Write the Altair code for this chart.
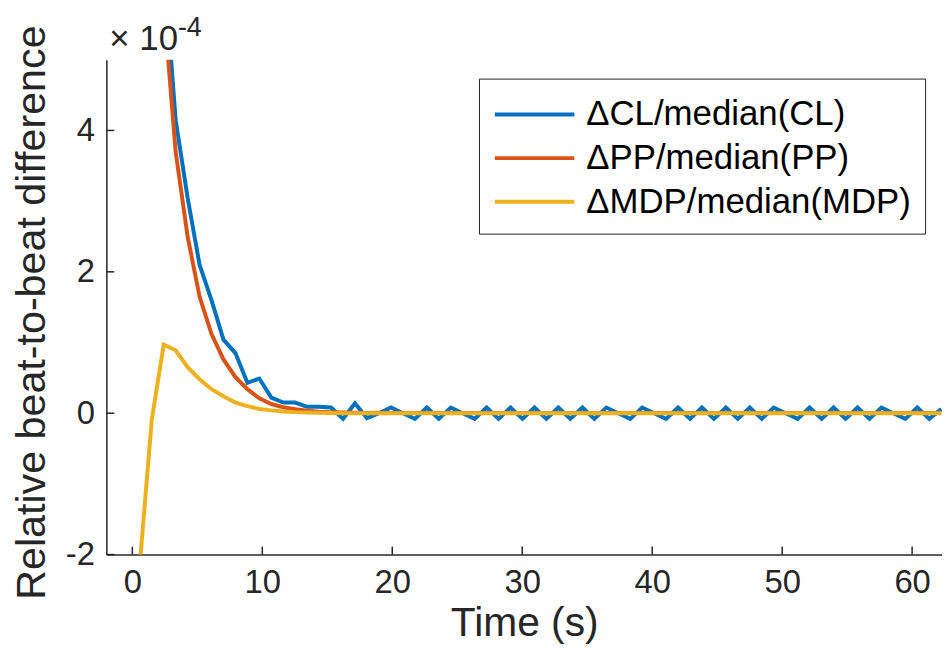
import altair as alt
import pandas as pd

# ---------------- data (values in units of 1e-4) ----------------
time_s = [0.57, 1.49, 2.41, 3.33, 4.25, 5.17, 6.09, 7.01, 7.93, 8.85,
          9.77, 10.69, 11.61, 12.53, 13.45, 14.37, 15.29, 16.21, 17.13, 18.05,
          18.98, 19.90, 20.82, 21.74, 22.66, 23.58, 24.50, 25.42, 26.34, 27.26,
          28.18, 29.10, 30.02, 30.94, 31.86, 32.78, 33.70, 34.63, 35.55, 36.47,
          37.39, 38.31, 39.23, 40.15, 41.07, 41.99, 42.91, 43.83, 44.75, 45.67,
          46.59, 47.51, 48.43, 49.35, 50.27, 51.19, 52.11, 53.04, 53.96, 54.88,
          55.80, 56.72, 57.64, 58.56, 59.48, 60.40, 61.32, 62.24]

d_cl = [None, None, 6.4, 4.15, 3.05, 2.1, 1.6, 1.04, 0.85, 0.43,
        0.49, 0.22, 0.15, 0.15, 0.09, 0.09, 0.08, -0.08, 0.14, -0.07,
        0.0, 0.08, 0.0, -0.08, 0.08, -0.08, 0.08, 0.0, -0.08, 0.08,
        -0.08, 0.08, -0.08, 0.08, -0.08, 0.08, -0.08, 0.08, -0.08, 0.08,
        0.0, -0.08, 0.08, 0.0, -0.08, 0.08, -0.08, 0.08, -0.08, 0.08,
        -0.08, 0.08, -0.08, 0.08, 0.0, -0.08, 0.08, -0.08, 0.08, -0.08,
        0.08, -0.08, 0.08, 0.0, -0.08, 0.08, -0.08, 0.06]

d_pp = [None, None, 5.8, 3.7, 2.5, 1.65, 1.12, 0.76, 0.51, 0.34,
        0.21, 0.13, 0.085, 0.055, 0.035, 0.022, 0.014, 0.009, 0.006, 0.004,
        0.005, 0.003, 0.004, 0.002, 0.003, 0.002, 0.003, 0.002, 0.002, 0.003,
        0.002, 0.002, 0.003, 0.002, 0.002, 0.002, 0.003, 0.002, 0.002, 0.002,
        0.003, 0.002, 0.002, 0.002, 0.003, 0.002, 0.002, 0.002, 0.003, 0.002,
        0.002, 0.002, 0.003, 0.002, 0.002, 0.002, 0.003, 0.002, 0.002, 0.002,
        0.003, 0.002, 0.002, 0.002, 0.003, 0.002, 0.002, 0.002]

d_mdp = [-2.15, -0.1, 0.97, 0.89, 0.65, 0.48, 0.34, 0.24, 0.15, 0.10,
         0.06, 0.04, 0.025, 0.015, 0.01, 0.006, 0.003, 0.0, 0.0, 0.0,
         0.0, 0.0, 0.0, 0.0, 0.0, 0.0, 0.0, 0.0, 0.0, 0.0,
         0.0, 0.0, 0.0, 0.0, 0.0, 0.0, 0.0, 0.0, 0.0, 0.0,
         0.0, 0.0, 0.0, 0.0, 0.0, 0.0, 0.0, 0.0, 0.0, 0.0,
         0.0, 0.0, 0.0, 0.0, 0.0, 0.0, 0.0, 0.0, 0.0, 0.0,
         0.0, 0.0, 0.0, 0.0, 0.0, 0.0, 0.0, 0.0]

series_names = ["\u0394CL/median(CL)", "\u0394PP/median(PP)", "\u0394MDP/median(MDP)"]
series_colors = ["#0072BD", "#D95319", "#EDB120"]

x_ticks = [0, 10, 20, 30, 40, 50, 60]
y_ticks = [-2, 0, 2, 4]

rows = []
for name, vals in zip(series_names, [d_cl, d_pp, d_mdp]):
    for t, v in zip(time_s, vals):
        if v is not None:
            rows.append({"t": t, "v": v, "s": name})
df = pd.DataFrame(rows)

# ---------------- style ----------------
W, H = 841, 498
AX = "#262626"
FONT = "Liberation Sans"

xscale = alt.Scale(domain=[-2, 62.3], nice=False, zero=False)
yscale = alt.Scale(domain=[-2, 5], nice=False, zero=False)

x_axis = alt.Axis(values=x_ticks, title="Time (s)", grid=False, ticks=False,
                  domainColor=AX, domainWidth=1.5,
                  labelFont=FONT, labelFontSize=33, labelColor=AX, labelPadding=12,
                  titleFont=FONT, titleFontSize=41, titleFontWeight="normal",
                  titleColor=AX, titlePadding=4)
y_axis = alt.Axis(values=y_ticks, title="Relative beat-to-beat difference",
                  grid=False, ticks=False, labelExpr="'' + datum.value",
                  domainColor=AX, domainWidth=1.5,
                  labelFont=FONT, labelFontSize=33, labelColor=AX, labelPadding=12,
                  titleFont=FONT, titleFontSize=41.5, titleFontWeight="normal",
                  titleColor=AX, titleX=-62, titleY=H / 2 + 5,
                  titleAngle=-90, titleAlign="center", titleBaseline="alphabetic")

lines = alt.Chart(df).mark_line(strokeWidth=4, clip=True).encode(
    x=alt.X("t:Q", scale=xscale, axis=x_axis, title="Time (s)"),
    y=alt.Y("v:Q", scale=yscale, axis=y_axis, title="Relative beat-to-beat difference"),
    color=alt.Color("s:N", sort=series_names,
                    scale=alt.Scale(domain=series_names, range=series_colors),
                    legend=alt.Legend(title=None, orient="none", legendX=375, legendY=19,
                                      strokeColor=AX, fillColor="white", padding=14,
                                      symbolType="M-1,0H3", symbolSize=1600,
                                      symbolStrokeWidth=4, labelFont=FONT,
                                      labelFontSize=35, labelColor="black",
                                      labelLimit=600, rowPadding=4, labelOffset=50)),
)

xtick_df = pd.DataFrame({"t": x_ticks})
ytick_df = pd.DataFrame({"v": y_ticks})

xticks = alt.Chart(xtick_df).mark_rule(color=AX, strokeWidth=1.5).encode(
    x=alt.X("t:Q", scale=xscale, axis=x_axis, title="Time (s)"),
    y=alt.value(H), y2=alt.value(H - 8))
yticks = alt.Chart(ytick_df).mark_rule(color=AX, strokeWidth=1.5).encode(
    y=alt.Y("v:Q", scale=yscale, axis=y_axis, title="Relative beat-to-beat difference"),
    x=alt.value(0), x2=alt.value(8))

exp_base = alt.Chart(pd.DataFrame({"txt": ["\u00d7 10"]})).mark_text(
    font=FONT, fontSize=35, color=AX, align="left", baseline="alphabetic").encode(
    text="txt:N", x=alt.value(3), y=alt.value(-10))
exp_sup = alt.Chart(pd.DataFrame({"txt": ["-4"]})).mark_text(
    font=FONT, fontSize=27, color=AX, align="left", baseline="alphabetic").encode(
    text="txt:N", x=alt.value(72), y=alt.value(-24))

chart = alt.layer(lines, xticks, yticks, exp_base, exp_sup).properties(
    width=W, height=H,
    padding={"left": 99, "top": 50, "right": 0, "bottom": 100},
    autosize=alt.AutoSizeParams(type="none"),
    background="white",
).configure_view(stroke=None)

chart.save("out.html", embed_options={"renderer": "svg", "actions": False})
